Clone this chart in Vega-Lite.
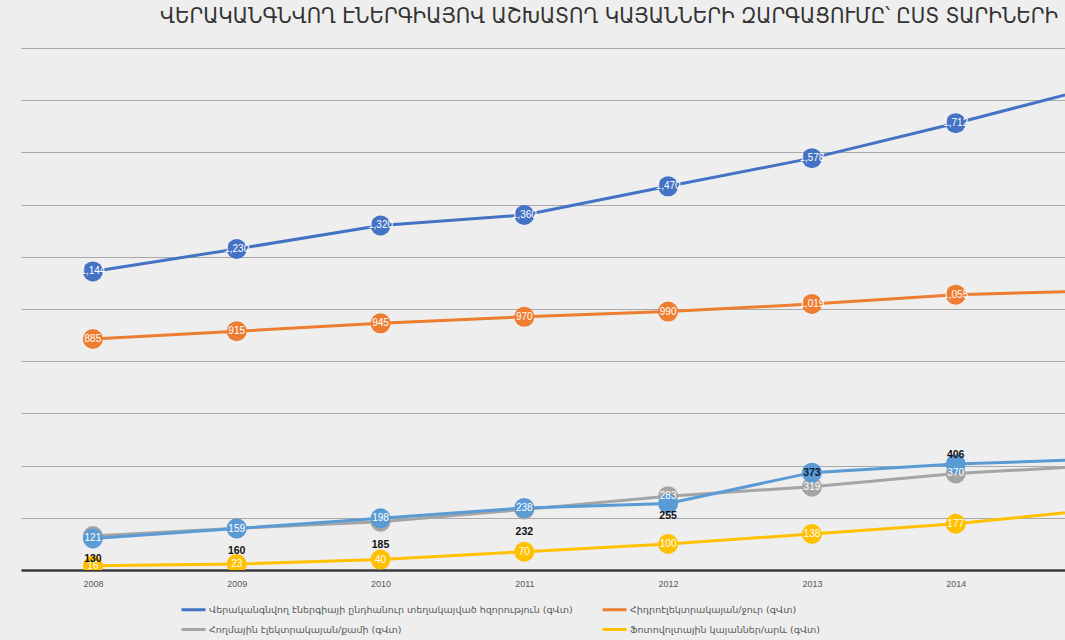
{
  "$schema": "https://vega.github.io/schema/vega-lite/v6.json",
  "autosize": {"type": "none"},
  "padding": {"left": 21, "top": 48, "right": 0, "bottom": 70},
  "width": 1044,
  "height": 522,
  "background": "#eeeeee",
  "config": {
    "view": {"stroke": null},
    "font": "DejaVu Sans"
  },
  "title": {
    "text": "ՎԵՐԱԿԱՆԳՆՎՈՂ ԷՆԵՐԳԻԱՅՈՎ ԱՇԽԱՏՈՂ ԿԱՅԱՆՆԵՐԻ ԶԱՐԳԱՑՈՒՄԸ՝ ԸՍՏ ՏԱՐԻՆԵՐԻ",
    "anchor": "start",
    "frame": "group",
    "dx": 139,
    "offset": 20,
    "font": "DejaVu Sans Condensed",
    "fontSize": 22,
    "fontWeight": "normal",
    "color": "#333333"
  },
  "data": {
    "values": [
      {"year": 2008, "series": "Վերականգնվող էներգիայի ընդհանուր տեղակայված հզորություն (գՎտ)", "v": 1144},
      {"year": 2009, "series": "Վերականգնվող էներգիայի ընդհանուր տեղակայված հզորություն (գՎտ)", "v": 1230},
      {"year": 2010, "series": "Վերականգնվող էներգիայի ընդհանուր տեղակայված հզորություն (գՎտ)", "v": 1320},
      {"year": 2011, "series": "Վերականգնվող էներգիայի ընդհանուր տեղակայված հզորություն (գՎտ)", "v": 1360},
      {"year": 2012, "series": "Վերականգնվող էներգիայի ընդհանուր տեղակայված հզորություն (գՎտ)", "v": 1470},
      {"year": 2013, "series": "Վերականգնվող էներգիայի ընդհանուր տեղակայված հզորություն (գՎտ)", "v": 1578},
      {"year": 2014, "series": "Վերականգնվող էներգիայի ընդհանուր տեղակայված հզորություն (գՎտ)", "v": 1712},
      {"year": 2015, "series": "Վերականգնվող էներգիայի ընդհանուր տեղակայված հզորություն (գՎտ)", "v": 1854},
      {"year": 2008, "series": "Հիդրոէլեկտրակայան/ջուր (գՎտ)", "v": 885},
      {"year": 2009, "series": "Հիդրոէլեկտրակայան/ջուր (գՎտ)", "v": 915},
      {"year": 2010, "series": "Հիդրոէլեկտրակայան/ջուր (գՎտ)", "v": 945},
      {"year": 2011, "series": "Հիդրոէլեկտրակայան/ջուր (գՎտ)", "v": 970},
      {"year": 2012, "series": "Հիդրոէլեկտրակայան/ջուր (գՎտ)", "v": 990},
      {"year": 2013, "series": "Հիդրոէլեկտրակայան/ջուր (գՎտ)", "v": 1019},
      {"year": 2014, "series": "Հիդրոէլեկտրակայան/ջուր (գՎտ)", "v": 1055},
      {"year": 2015, "series": "Հիդրոէլեկտրակայան/ջուր (գՎտ)", "v": 1070},
      {"year": 2008, "series": "Հողմային էլեկտրակայան/քամի (գՎտ)", "v": 130},
      {"year": 2009, "series": "Հողմային էլեկտրակայան/քամի (գՎտ)", "v": 160},
      {"year": 2010, "series": "Հողմային էլեկտրակայան/քամի (գՎտ)", "v": 185},
      {"year": 2011, "series": "Հողմային էլեկտրակայան/քամի (գՎտ)", "v": 232},
      {"year": 2012, "series": "Հողմային էլեկտրակայան/քամի (գՎտ)", "v": 283},
      {"year": 2013, "series": "Հողմային էլեկտրակայան/քամի (գՎտ)", "v": 319},
      {"year": 2014, "series": "Հողմային էլեկտրակայան/քամի (գՎտ)", "v": 370},
      {"year": 2015, "series": "Հողմային էլեկտրակայան/քամի (գՎտ)", "v": 400},
      {"year": 2008, "series": "Ֆոտովոլտային կայաններ/արև (գՎտ)", "v": 16},
      {"year": 2009, "series": "Ֆոտովոլտային կայաններ/արև (գՎտ)", "v": 23},
      {"year": 2010, "series": "Ֆոտովոլտային կայաններ/արև (գՎտ)", "v": 40},
      {"year": 2011, "series": "Ֆոտովոլտային կայաններ/արև (գՎտ)", "v": 70},
      {"year": 2012, "series": "Ֆոտովոլտային կայաններ/արև (գՎտ)", "v": 100},
      {"year": 2013, "series": "Ֆոտովոլտային կայաններ/արև (գՎտ)", "v": 138},
      {"year": 2014, "series": "Ֆոտովոլտային կայաններ/արև (գՎտ)", "v": 177},
      {"year": 2015, "series": "Ֆոտովոլտային կայաններ/արև (գՎտ)", "v": 233},
      {"year": 2008, "series": "Այլ (գՎտ)", "v": 121},
      {"year": 2009, "series": "Այլ (գՎտ)", "v": 159},
      {"year": 2010, "series": "Այլ (գՎտ)", "v": 198},
      {"year": 2011, "series": "Այլ (գՎտ)", "v": 238},
      {"year": 2012, "series": "Այլ (գՎտ)", "v": 255},
      {"year": 2013, "series": "Այլ (գՎտ)", "v": 373},
      {"year": 2014, "series": "Այլ (գՎտ)", "v": 406},
      {"year": 2015, "series": "Այլ (գՎտ)", "v": 425}
    ]
  },
  "encoding": {
    "x": {
      "field": "year",
      "type": "quantitative",
      "scale": {"domain": [2007.5, 2014.76], "nice": false, "zero": false},
      "axis": {
        "values": [2008, 2009, 2010, 2011, 2012, 2013, 2014],
        "format": "d",
        "title": null,
        "grid": false,
        "ticks": false,
        "domainColor": "#3a3a3a",
        "domainWidth": 2.5,
        "labelFont": "Liberation Sans",
        "labelFontSize": 9,
        "labelColor": "#595959",
        "labelPadding": 9
      }
    },
    "y": {
      "field": "v",
      "type": "quantitative",
      "scale": {"domain": [0, 2000], "nice": false},
      "axis": {
        "values": [200, 400, 600, 800, 1000, 1200, 1400, 1600, 1800, 2000],
        "title": null,
        "labels": false,
        "ticks": false,
        "domain": false,
        "gridColor": "#a9a9a9",
        "gridWidth": 1
      }
    }
  },
  "layer": [
    {
      "mark": {"type": "line", "strokeWidth": 3, "clip": true},
      "encoding": {
        "color": {
          "field": "series",
          "type": "nominal",
          "scale": {
            "domain": [
              "Վերականգնվող էներգիայի ընդհանուր տեղակայված հզորություն (գՎտ)",
              "Հիդրոէլեկտրակայան/ջուր (գՎտ)",
              "Հողմային էլեկտրակայան/քամի (գՎտ)",
              "Ֆոտովոլտային կայաններ/արև (գՎտ)",
              "Այլ (գՎտ)"
            ],
            "range": ["#4472C4", "#ED7D31", "#A5A5A5", "#FFC000", "#5B9BD5"]
          },
          "legend": {
            "values": [
              "Վերականգնվող էներգիայի ընդհանուր տեղակայված հզորություն (գՎտ)",
              "Հիդրոէլեկտրակայան/ջուր (գՎտ)",
              "Հողմային էլեկտրակայան/քամի (գՎտ)",
              "Ֆոտովոլտային կայաններ/արև (գՎտ)"
            ],
            "title": null,
            "orient": "none",
            "legendX": 159,
            "legendY": 548,
            "direction": "horizontal",
            "columns": 2,
            "columnPadding": 23,
            "rowPadding": 0,
            "padding": 0,
            "symbolType": "stroke",
            "symbolSize": 576,
            "symbolStrokeWidth": 3,
            "labelFont": "DejaVu Sans",
            "labelFontSize": 9.5,
            "labelColor": "#595959",
            "labelOffset": 2,
            "labelLimit": 600
          }
        }
      }
    },
    {
      "mark": {"type": "circle", "size": 400, "opacity": 1, "clip": true},
      "encoding": {
        "color": {"field": "series", "type": "nominal"}
      }
    },
    {
      "transform": [
        {"filter": "datum.year <= 2014 && !((datum.series == 'Հողմային էլեկտրակայան/քամի (գՎտ)' && datum.year <= 2011) || (datum.series == 'Այլ (գՎտ)' && datum.year >= 2012))"}
      ],
      "mark": {"type": "text", "color": "white", "fontSize": 10, "font": "Liberation Sans", "clip": true},
      "encoding": {"text": {"field": "v", "type": "quantitative", "format": ","}}
    },
    {
      "transform": [
        {"filter": "datum.series == 'Հողմային էլեկտրակայան/քամի (գՎտ)' && datum.year <= 2011"}
      ],
      "mark": {"type": "text", "color": "#111111", "fontSize": 10.5, "fontWeight": "bold", "font": "Liberation Sans", "dy": 23},
      "encoding": {"text": {"field": "v", "type": "quantitative", "format": ","}}
    },
    {
      "transform": [
        {"filter": "datum.series == 'Այլ (գՎտ)' && datum.year == 2012"}
      ],
      "mark": {"type": "text", "color": "#111111", "fontSize": 10.5, "fontWeight": "bold", "font": "Liberation Sans", "dy": 13},
      "encoding": {"text": {"field": "v", "type": "quantitative", "format": ","}}
    },
    {
      "transform": [
        {"filter": "datum.series == 'Այլ (գՎտ)' && datum.year == 2013"}
      ],
      "mark": {"type": "text", "color": "#0d1a33", "fontSize": 10.5, "fontWeight": "bold", "font": "Liberation Sans", "dy": 0},
      "encoding": {"text": {"field": "v", "type": "quantitative", "format": ","}}
    },
    {
      "transform": [
        {"filter": "datum.series == 'Այլ (գՎտ)' && datum.year == 2014"}
      ],
      "mark": {"type": "text", "color": "#111111", "fontSize": 10.5, "fontWeight": "bold", "font": "Liberation Sans", "dy": -9},
      "encoding": {"text": {"field": "v", "type": "quantitative", "format": ","}}
    }
  ]
}
